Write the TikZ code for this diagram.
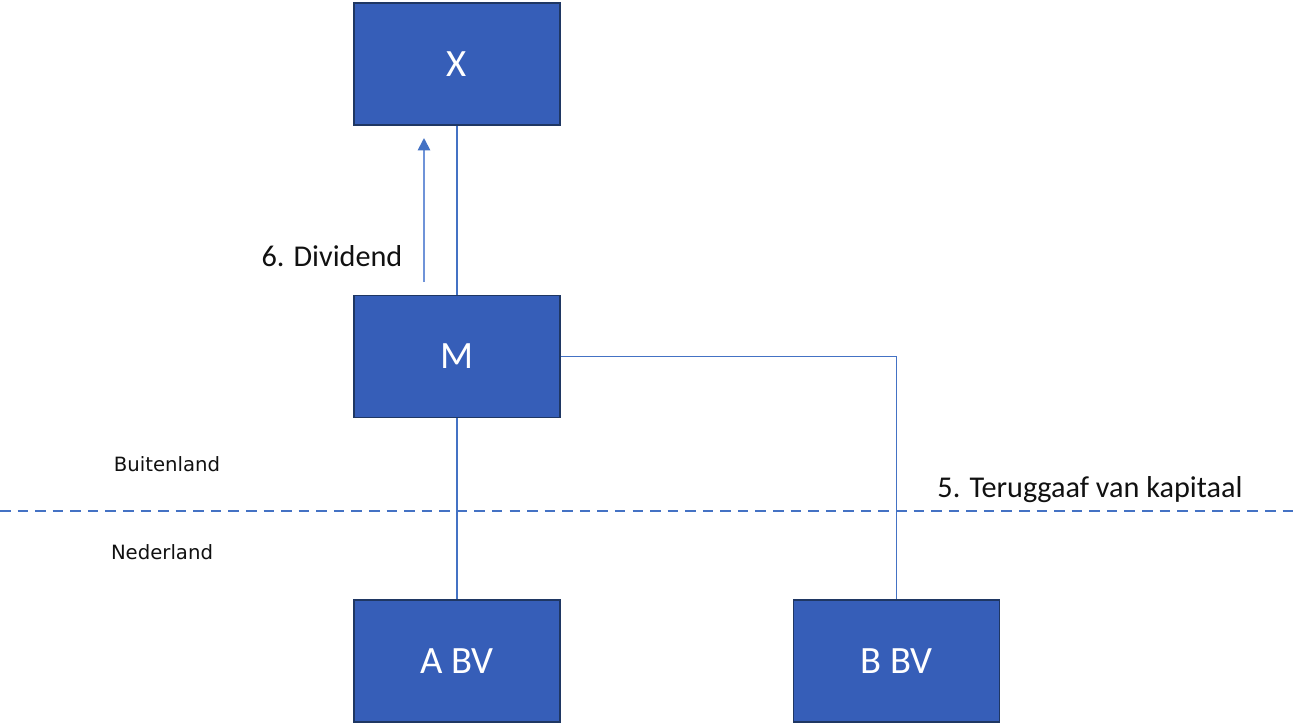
\documentclass[tikz,border=0pt]{standalone}
\usepackage{fontspec}
\setmainfont{Carlito}
\newfontfamily\dejavu{DejaVu Sans}
\usetikzlibrary{arrows.meta,positioning,calc}
\definecolor{entfill}{HTML}{365EB8}
\definecolor{entedge}{HTML}{1F3763}
\definecolor{linkblue}{HTML}{4472C4}
\definecolor{arrblue}{HTML}{6F93D8}
\definecolor{ink}{HTML}{111111}

\begin{document}
\begin{tikzpicture}[x=0.02cm,y=-0.02cm,
  entity/.style={draw=entedge,fill=entfill,line width=0.9pt,minimum width=4.12cm,minimum height=2.44cm,inner sep=0pt,text=white,font=\fontsize{22}{26}\selectfont},
  link/.style={draw=linkblue,line width=0.6pt},
  flow/.style={-{Triangle[length=7pt,width=7pt,color=linkblue]},draw=arrblue,line width=1pt},
  lbl/.style={text=ink,font=\fontsize{17.2}{20}\selectfont},
  zone/.style={text=ink,font=\dejavu\fontsize{11.2}{13}\selectfont}]

\useasboundingbox (0,0) rectangle (1299,725);

% border between the two countries
\coordinate (bl) at (0,511);
\coordinate (br) at (1299,511);
\draw[linkblue,line width=1.3pt,dash pattern=on 6pt off 4pt] (bl) -- (br);

% entities
\node[entity] (x) at (457,64) {X};
\node[entity] (m) at (457,356.5) {M};
\node[entity] (abv) at (457,661) {A BV};
\node[entity] (bbv) at (896.5,661) {B BV};

% holdings
\draw[link] (x.south) -- (m.north);
\draw[link] (m.south) -- (abv.north);
\draw[link] (m.east) -| (bbv.north);

% dividend flow
\coordinate (d0) at (424,282);
\coordinate (d1) at (424,138);
\draw[flow] (d0) -- (d1);

% labels
\node[lbl] (div) at (332,256) {6. Dividend};
\node[lbl] (tvk) at (1090,490) {5. Teruggaaf van kapitaal};
\node[zone] (bu) at (167,464) {Buitenland};
\node[zone] (nl) at (162,552) {Nederland};
\end{tikzpicture}
\end{document}
